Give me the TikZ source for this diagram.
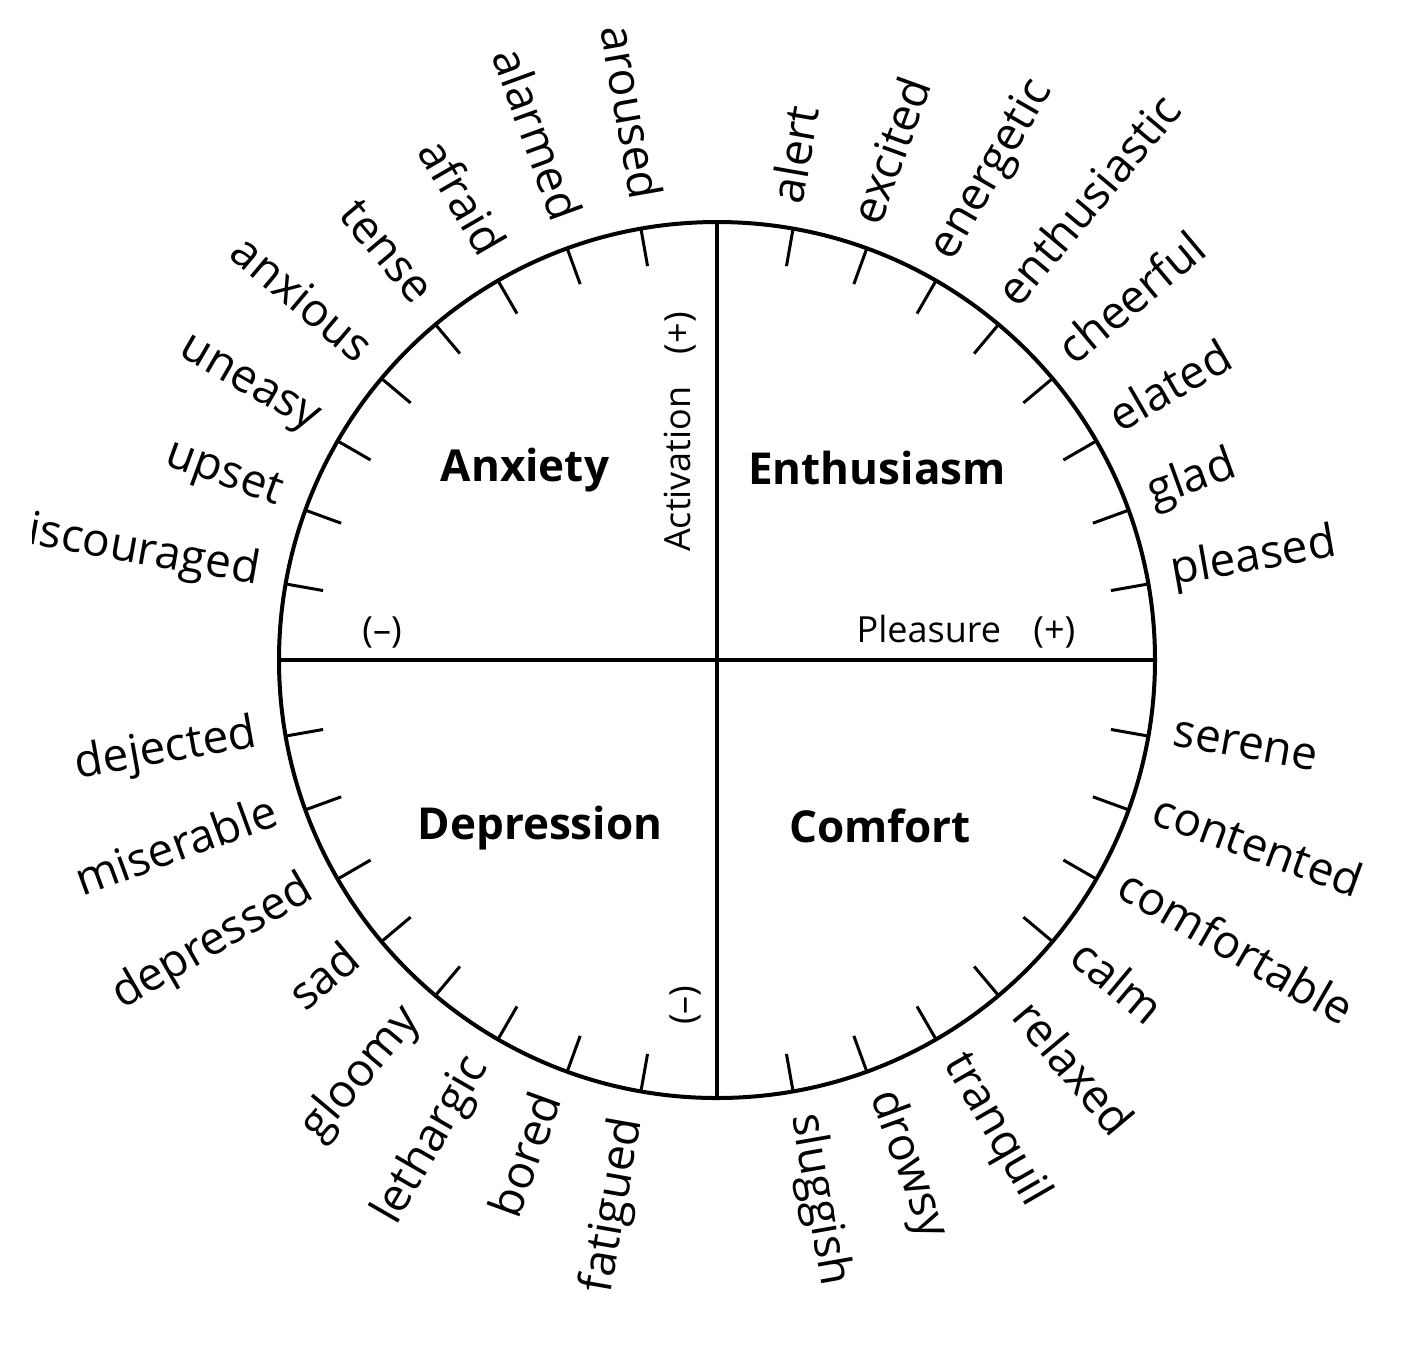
\documentclass[tikz,border=0pt]{standalone}
\usepackage{fontspec}
\setmainfont{Open Sans}
\begin{document}
\begin{tikzpicture}[x=0.5pt,y=-0.5pt,
  word/.style={font=\fontsize{23}{26}\selectfont, inner sep=0pt},
  quad/.style={font=\bfseries\fontsize{22}{26}\selectfont, inner sep=0pt},
  axislbl/.style={font=\fontsize{18}{22}\selectfont, inner sep=0pt},
  tickline/.style={line width=1.5pt},
  axisline/.style={line width=2.2pt},
  rim/.style={line width=2pt}]
\useasboundingbox (0,0) rectangle (1412,1346);
\clip (32,0) rectangle (1412,1346);
\def\R{438}
\coordinate (O) at (717,660);
\coordinate (L) at (279,660);
\coordinate (Rt) at (1155,660);
\coordinate (T) at (717,222);
\coordinate (B) at (717,1098);
\draw[rim] (O) circle[radius=219pt];
\draw[axisline] (L) -- (Rt);
\draw[axisline] (T) -- (B);
\foreach \a in {10,20,...,80,100,110,...,170,190,200,...,260,280,290,...,350}
  \draw[tickline] ({717+\R*cos(\a)},{660-\R*sin(\a)}) -- ({717+(\R-38)*cos(\a)},{660-(\R-38)*sin(\a)});
% right side labels
\foreach \a/\w in {10/pleased,20/glad,30/elated,40/cheerful,50/enthusiastic,60/energetic,70/excited,80/alert,
  280/sluggish,290/drowsy,300/tranquil,310/relaxed,320/calm,330/comfortable,340/contented,350/serene}
  \node[word,anchor=mid west,rotate=\a] (w\a) at ({717+462*cos(\a)},{660-462*sin(\a)}) {\w};
% left side labels
\foreach \a/\w in {100/aroused,110/alarmed,120/afraid,130/tense,140/anxious,150/uneasy,160/upset,170/discouraged,
  190/dejected,200/miserable,210/depressed,220/sad,230/gloomy,240/lethargic,250/bored,260/fatigued}
  \node[word,anchor=mid east,rotate=\a-180] (w\a) at ({717+466*cos(\a)},{660-466*sin(\a)}) {\w};
% quadrant labels
\node[quad] (anx) at (525,470) {Anxiety};
\node[quad] (ent) at (877,468) {Enthusiasm};
\node[quad] (dep) at (540,828) {Depression};
\node[quad] (com) at (880,826) {Comfort};
% axis labels
\node[axislbl] (pl) at (966,632) {Pleasure\hspace{0.9em}(+)};
\node[axislbl] (mn) at (382,632) {(–)};
\node[axislbl,rotate=90] (ac) at (680,432) {Activation\hspace{0.9em}(+)};
\node[axislbl,rotate=90] (mb) at (685,1005) {(–)};
\end{tikzpicture}
\end{document}
